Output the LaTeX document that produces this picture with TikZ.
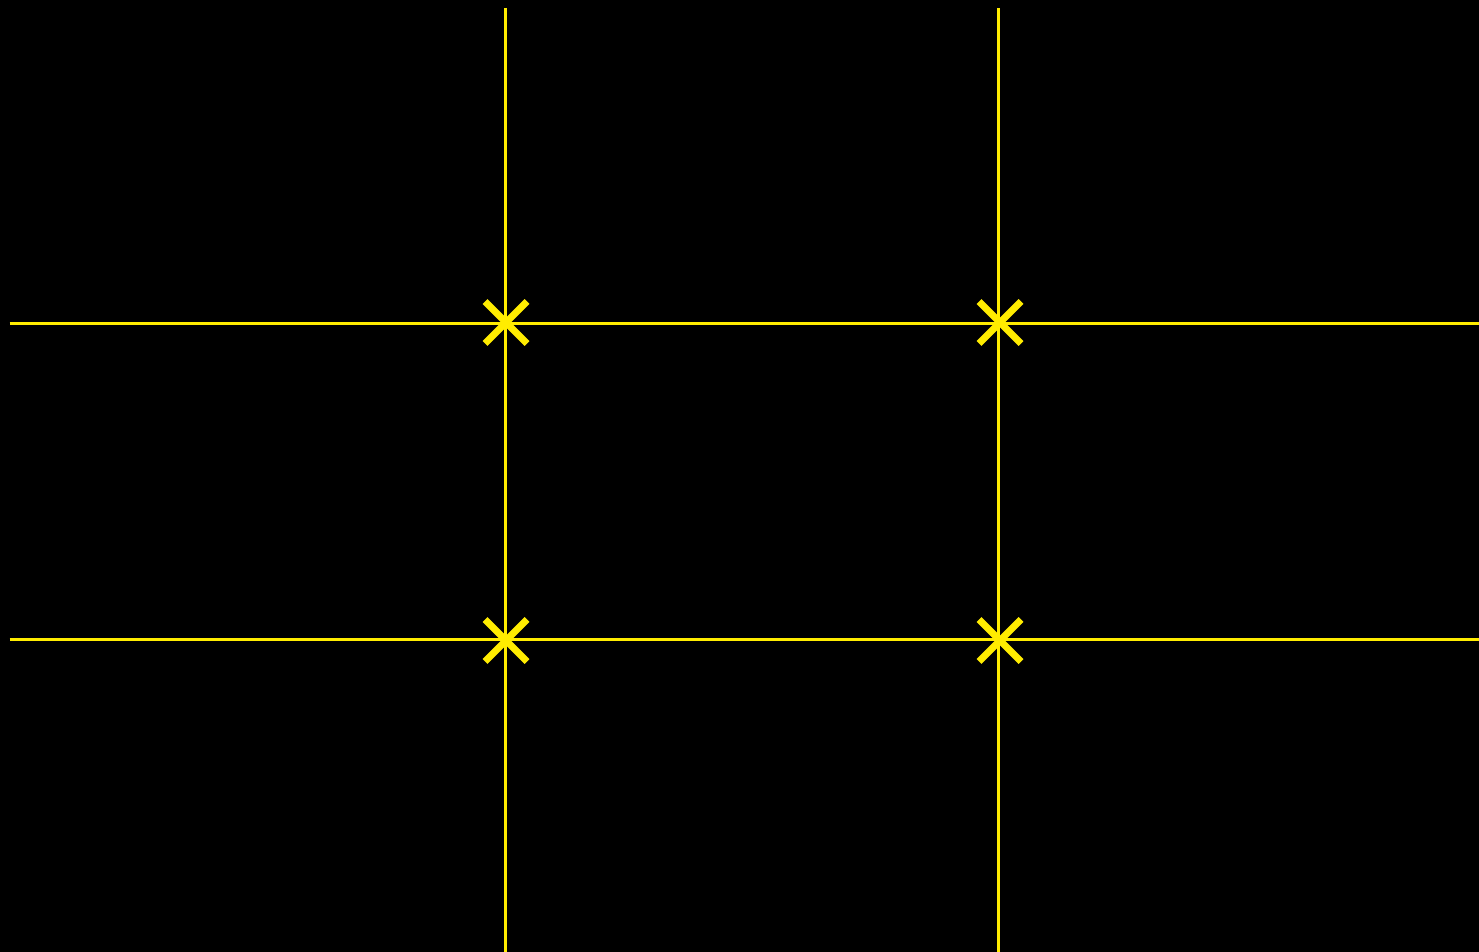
\documentclass[tikz,border=0pt]{standalone}
\definecolor{gridyellow}{RGB}{255,236,0}
\tikzset{
  gridline/.style={draw=gridyellow, line width=3pt},
  crossmark/.style={draw=gridyellow, line width=7pt, line cap=butt}
}
\begin{document}
\begin{tikzpicture}[x=1pt,y=-1pt]
  \fill[black] (0,0) rectangle (1479,952);
  \useasboundingbox (0,0) rectangle (1479,952);
  % line end points
  \coordinate (v1t) at (505,8);
  \coordinate (v1b) at (505,952);
  \coordinate (v2t) at (998.5,8);
  \coordinate (v2b) at (998.5,952);
  \coordinate (h1l) at (9.5,323.5);
  \coordinate (h1r) at (1479,323.5);
  \coordinate (h2l) at (9.5,639.5);
  \coordinate (h2r) at (1479,639.5);
  \draw[gridline] (v1t) -- (v1b);
  \draw[gridline] (v2t) -- (v2b);
  \draw[gridline] (h1l) -- (h1r);
  \draw[gridline] (h2l) -- (h2r);
  % intersections
  \coordinate (p11) at (506,322.5);
  \coordinate (p12) at (1000,322.5);
  \coordinate (p21) at (506,640.5);
  \coordinate (p22) at (1000,640.5);
  \foreach \p in {p11,p12,p21,p22}{
    \draw[crossmark] ([shift={(-21,-21)}]\p) -- ([shift={(21,21)}]\p);
    \draw[crossmark] ([shift={(-21,21)}]\p) -- ([shift={(21,-21)}]\p);
  }
\end{tikzpicture}
\end{document}
